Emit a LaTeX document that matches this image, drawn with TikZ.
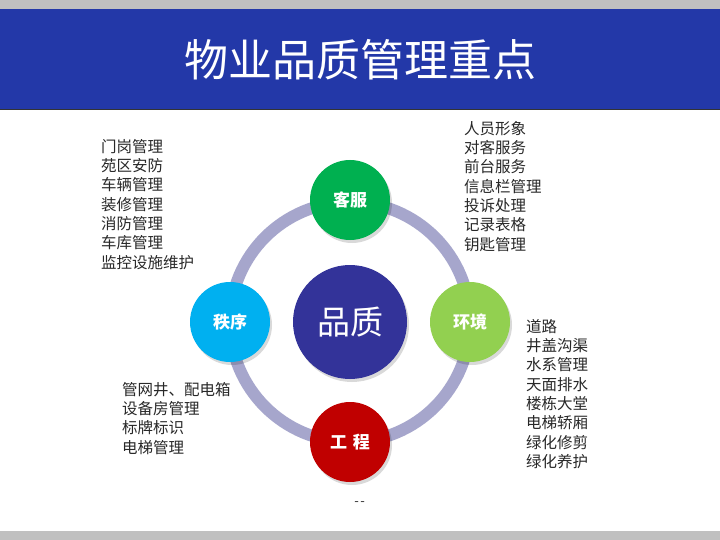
\documentclass[tikz,border=0pt]{standalone}
\usepackage{fontspec}
\newfontfamily\cjk{Noto Sans CJK SC}
\definecolor{hdrblue}{RGB}{35,56,168}
\definecolor{stripgray}{RGB}{192,192,192}
\definecolor{ringc}{RGB}{166,166,204}
\definecolor{coreblue}{RGB}{51,51,153}
\definecolor{cgreen}{RGB}{0,176,80}
\definecolor{ccyan}{RGB}{0,176,240}
\definecolor{clgreen}{RGB}{146,208,80}
\definecolor{cred}{RGB}{192,0,0}
\definecolor{txt}{RGB}{40,40,40}
\tikzset{
  topic/.style={circle, minimum size=80pt, inner sep=0pt, text=white,
    font=\cjk\bfseries\fontsize{17}{17}\selectfont},
  shadowdisk/.style={fill=black, fill opacity=0.15},
  itemlist/.style={anchor=north west, inner sep=0pt, align=left, text=txt,
    font=\cjk\fontsize{15.5}{19.3}\selectfont}
}
\begin{document}
\begin{tikzpicture}[x=1pt,y=-1pt]
\useasboundingbox (0,0) rectangle (720,540);
\fill[white] (0,0) rectangle (720,540);
% strips
\fill[stripgray] (0,0) rectangle (720,9);
\fill[stripgray] (0,531) rectangle (720,540);
\fill[hdrblue] (0,9) rectangle (720,110);
\draw[black!80, line width=1pt] (0,110) -- (720,110);
\node[text=white, font=\cjk\fontsize{44}{44}\selectfont] (title) at (360,60) {物业品质管理重点};
% ring
\coordinate (c) at (350,322);
\draw[ringc, line width=12pt] (c) circle[radius=120];
% shadows
\foreach \p in {(350,200),(470,322),(350,442),(230,322)} {
  \fill[shadowdisk] \p ++(2,3) circle[radius=40];
}
\fill[shadowdisk] (352,325) circle[radius=57];
% nodes
\node[circle, fill=coreblue, minimum size=114pt, inner sep=0pt, text=white,
  font=\cjk\fontsize{33}{33}\selectfont] (core) at (c) {品质};
\node[topic, fill=cgreen] (kf) at (350,200) {客服};
\node[topic, fill=clgreen] (hj) at (470,322) {环境};
\node[topic, fill=cred] (gc) at (350,442) {工\,\,程};
\node[topic, fill=ccyan] (zx) at (230,322) {秩序};
% lists
\node[itemlist] (l1) at (101,139) {门岗管理\\苑区安防\\车辆管理\\装修管理\\消防管理\\车库管理\\监控设施维护};
\node[itemlist] (l2) at (464,121) {人员形象\\对客服务\\前台服务\\信息栏管理\\投诉处理\\记录表格\\钥匙管理};
\node[itemlist] (l3) at (122,382) {管网井、配电箱\\设备房管理\\标牌标识\\电梯管理};
\node[itemlist] (l4) at (526,319) {道路\\井盖沟渠\\水系管理\\天面排水\\楼栋大堂\\电梯轿厢\\绿化修剪\\绿化养护};
\node[text=black!75, font=\bfseries\fontsize{11}{11}\selectfont, inner sep=0pt] (dash) at (360,503) {-\,-};
\end{tikzpicture}
\end{document}
